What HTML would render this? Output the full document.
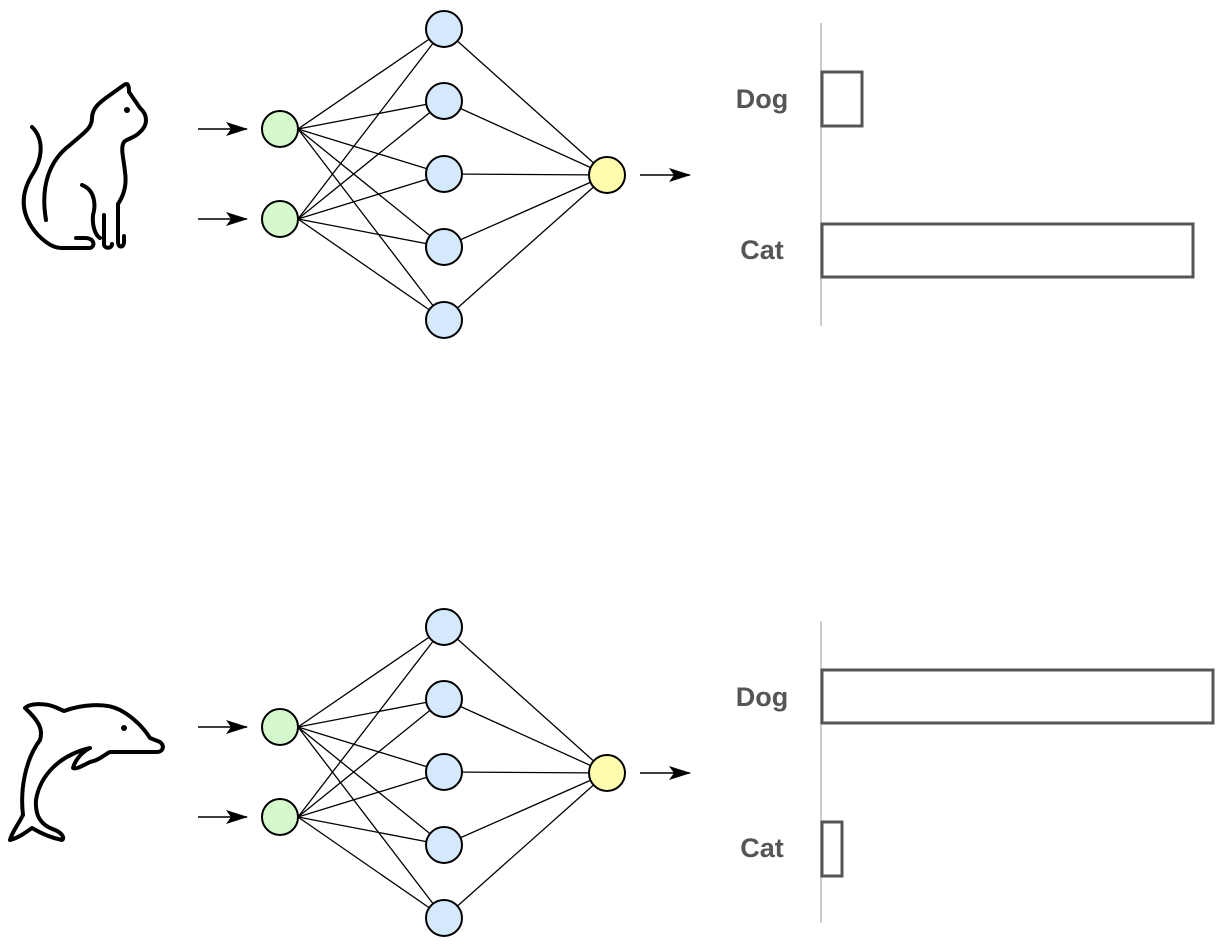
<!DOCTYPE html>
<html><head><style>
body{margin:0;background:#fff;}
text{font-family:"Comic Sans MS","Liberation Sans",sans-serif;font-weight:bold;font-size:27px;fill:#555;}
</style></head><body>
<svg width="1222" height="946" viewBox="0 0 1222 946" xmlns="http://www.w3.org/2000/svg">
<defs><marker id="a" markerWidth="22" markerHeight="14" refX="21" refY="7" orient="auto" markerUnits="userSpaceOnUse"><path d="M0,0 L22,7 L0,14 L5,7 Z" fill="#000"/></marker></defs>
<g id="net" stroke="#000" stroke-width="1.3">
<g>
<line x1="298" y1="129" x2="444" y2="29"/><line x1="298" y1="129" x2="444" y2="101"/><line x1="298" y1="129" x2="444" y2="174"/><line x1="298" y1="129" x2="444" y2="247"/><line x1="298" y1="129" x2="444" y2="320"/>
<line x1="298" y1="219" x2="444" y2="29"/><line x1="298" y1="219" x2="444" y2="101"/><line x1="298" y1="219" x2="444" y2="174"/><line x1="298" y1="219" x2="444" y2="247"/><line x1="298" y1="219" x2="444" y2="320"/>
<line x1="444" y1="29" x2="607" y2="175"/><line x1="444" y1="101" x2="607" y2="175"/><line x1="444" y1="174" x2="607" y2="175"/><line x1="444" y1="247" x2="607" y2="175"/><line x1="444" y1="320" x2="607" y2="175"/>
</g>
<g stroke-width="2">
<circle cx="280" cy="129" r="18" fill="#d5f9cd"/><circle cx="280" cy="219" r="18" fill="#d5f9cd"/>
<circle cx="444" cy="29" r="18" fill="#d4e9fc"/><circle cx="444" cy="101" r="18" fill="#d4e9fc"/><circle cx="444" cy="174" r="18" fill="#d4e9fc"/><circle cx="444" cy="247" r="18" fill="#d4e9fc"/><circle cx="444" cy="320" r="18" fill="#d4e9fc"/>
<circle cx="607" cy="175" r="18" fill="#fffcae"/>
</g>
<line x1="198" y1="129" x2="247" y2="129" stroke-width="1.5" marker-end="url(#a)"/>
<line x1="198" y1="219" x2="247" y2="219" stroke-width="1.5" marker-end="url(#a)"/>
<line x1="640" y1="175" x2="690" y2="175" stroke-width="1.5" marker-end="url(#a)"/>
</g>
<use href="#net" transform="translate(0,598)"/>
<line x1="821" y1="23" x2="821" y2="326" stroke="#ccc" stroke-width="2"/>
<rect x="822" y="72" width="40" height="54" fill="#fff" stroke="#555" stroke-width="3"/>
<rect x="822" y="224" width="371" height="53" fill="#fff" stroke="#555" stroke-width="3"/>
<text x="762" y="108" text-anchor="middle">Dog</text>
<text x="762" y="259" text-anchor="middle">Cat</text>
<line x1="821" y1="621" x2="821" y2="923" stroke="#ccc" stroke-width="2"/>
<rect x="822" y="670" width="391" height="53" fill="#fff" stroke="#555" stroke-width="3"/>
<rect x="822" y="822" width="20" height="54" fill="#fff" stroke="#555" stroke-width="3"/>
<text x="762" y="706" text-anchor="middle">Dog</text>
<text x="762" y="857" text-anchor="middle">Cat</text>
<g fill="none" stroke="#000" stroke-width="4" stroke-linecap="round" stroke-linejoin="round">
<path d="M32,127 C45,140 42,160 32,175 C20,195 20,215 38,235 C48,245 55,248 62,248 L90,248 C96,246 94,238 85,238 L76,238"/>
<path d="M46,220 C40,185 50,160 70,145 C85,132 92,128 92,118 C92,108 100,102 110,95 L124,85 C128,82 129,86 129,92 L140,108 C148,115 148,125 140,132 C135,138 128,138 124,142 C120,148 124,160 125,172 C127,185 124,195 118,204 L118,242 C118,248 124,248 124,242 L124,236"/>
<path d="M82,185 C95,190 96,205 93,215 C92,225 95,235 100,238"/>
<path d="M104,215 L104,244 C104,249 112,249 112,244"/>
</g>
<circle cx="127" cy="110" r="3" fill="#000"/>
<g fill="none" stroke="#000" stroke-width="4" stroke-linecap="round" stroke-linejoin="round">
<path d="M25,708 C30,703 45,703 55,707 L64,711 C80,705 105,702 120,710 C135,718 145,730 150,738 L160,742 C165,746 163,752 157,752 L110,752 C105,754 100,760 90,762 C84,765 75,770 73,768 C75,760 82,752 90,748 C60,755 40,775 36,800 C35,815 40,825 55,830 C62,833 65,838 62,840 C52,838 42,834 32,828 C25,833 18,838 10,840 C12,832 18,825 23,815 C20,790 25,760 40,740 C43,730 40,722 25,708 Z"/>
</g>
<circle cx="124" cy="728" r="3" fill="#000"/>
</svg>
</body></html>
